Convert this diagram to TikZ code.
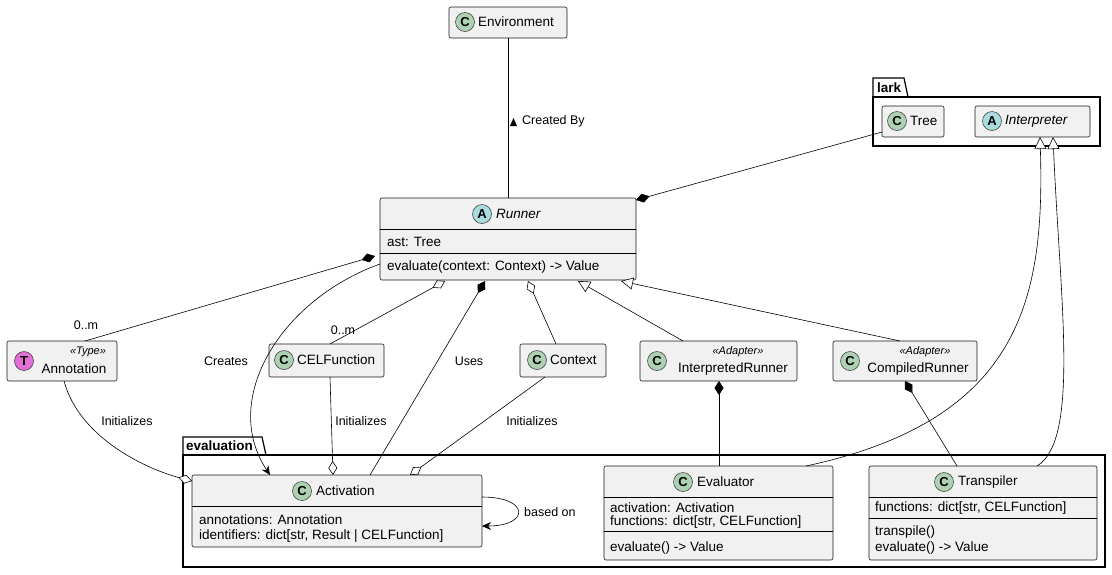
\documentclass[tikz,border=0pt]{standalone}
\usepackage{fontspec}
\setmainfont{Liberation Sans}
\usetikzlibrary{arrows.meta}
\definecolor{boxf}{HTML}{F1F1F1}
\definecolor{cg}{HTML}{ADD1B2}
\definecolor{ca}{HTML}{A9DCDF}
\definecolor{ct}{HTML}{E26FD6}
\tikzset{
 cls/.style={draw=black!90, fill=boxf, rounded corners=2pt, line width=0.6pt},
 pkg/.style={draw=black, line width=1.2pt},
 badge/.style={circle, draw=black!80, line width=0.5pt, minimum size=19pt, inner sep=0pt, font=\fontsize{13}{13}\selectfont\bfseries},
 t/.style={font=\fontsize{13.5}{15}\selectfont, inner sep=0pt},
 ti/.style={font=\fontsize{13.5}{15}\selectfont\itshape, inner sep=0pt},
 st/.style={font=\fontsize{11}{12}\selectfont\itshape, inner sep=0pt},
 lb/.style={font=\fontsize{12.5}{14}\selectfont, inner sep=0pt},
 ln/.style={line width=0.6pt},
 fd/.style={-{Diamond[length=14pt,width=9pt]}},
 od/.style={-{Diamond[open,fill=white,length=14pt,width=9pt]}},
 tri/.style={-{Triangle[open,fill=white,length=12pt,width=12pt]}},
 arr/.style={-{Stealth[length=9pt,width=8pt]}}
}
\begin{document}
\begin{tikzpicture}[x=1pt,y=-1pt]
\useasboundingbox (0,0) rectangle (1112,574);
% packages
\draw[pkg] (873,97) -- (873,78) -- (904,78) -- (908,97);
\draw[pkg] (873,97) rectangle (1100,146);
\node[t,font=\fontsize{13.5}{15}\selectfont\bfseries,anchor=west] at (877,88) {lark};
\draw[pkg] (183,455) -- (183,437) -- (262,437) -- (266,455);
\draw[pkg] (183,455) rectangle (1105,567);
\node[t,font=\fontsize{13.5}{15}\selectfont\bfseries,anchor=west] at (186,446) {evaluation};
% Environment
\draw[cls] (449,7) rectangle (567,38); \coordinate (env) at (508,38);
\node[badge,fill=cg] at (465,22) {C}; \node[t,anchor=west] at (478,22) {Environment};
% Tree, Interpreter
\draw[cls] (882,106) rectangle (944,137); \coordinate (tree) at (882,132);
\node[badge,fill=cg] at (897,121) {C}; \node[t,anchor=west] at (910,121) {Tree};
\draw[cls] (975,106) rectangle (1090,137);
\node[badge,fill=ca] at (992,121) {A}; \node[ti,anchor=west] at (1005,121) {Interpreter};
% Runner
\draw[cls] (380,198) rectangle (636,280);
\draw[ln] (380,229) -- (636,229); \draw[ln] (380,253) -- (636,253);
\node[badge,fill=ca] at (482,214) {A}; \node[ti,anchor=west] at (496,214) {Runner};
\node[t,anchor=west] at (387,242) {ast: Tree};
\node[t,anchor=west] at (387,267) {evaluate(context: Context) -> Value};
% Annotation
\draw[cls] (7,341) rectangle (117,381);
\node[badge,fill=ct] at (24,361) {T};
\node[st] at (88,352) {«Type»}; \node[t] at (74,369) {Annotation};
% CELFunction
\draw[cls] (269,344) rectangle (384,377);
\node[badge,fill=cg] at (284,360) {C}; \node[t,anchor=west] at (297,360) {CELFunction};
% Context
\draw[cls] (520,344) rectangle (606,377);
\node[badge,fill=cg] at (537,360) {C}; \node[t,anchor=west] at (550,360) {Context};
% InterpretedRunner
\draw[cls] (640,341) rectangle (797,381);
\node[badge,fill=cg] at (657,361) {C};
\node[st] at (738,352) {«Adapter»}; \node[t] at (733,369) {InterpretedRunner};
% CompiledRunner
\draw[cls] (833,341) rectangle (977,381);
\node[badge,fill=cg] at (850,361) {C};
\node[st] at (925,352) {«Adapter»}; \node[t] at (918,369) {CompiledRunner};
% Activation
\draw[cls] (192,475) rectangle (482,547);
\draw[ln] (192,506) -- (482,506);
\node[badge,fill=cg] at (302,491) {C}; \node[t,anchor=west] at (316,491) {Activation};
\node[t,anchor=west] at (199,520) {annotations: Annotation};
\node[t,anchor=west] at (199,536) {identifiers: dict[str, Result | CELFunction]};
% Evaluator
\draw[cls] (604,466) rectangle (833,560);
\draw[ln] (604,497) -- (833,497); \draw[ln] (604,531) -- (833,531);
\node[badge,fill=cg] at (683,482) {C}; \node[t,anchor=west] at (697,482) {Evaluator};
\node[t,anchor=west] at (610,508) {activation: Activation};
\node[t,anchor=west] at (610,522) {functions: dict[str, CELFunction]};
\node[t,anchor=west] at (610,548) {evaluate() -> Value};
% Transpiler
\draw[cls] (869,466) rectangle (1097,560);
\draw[ln] (869,497) -- (1097,497); \draw[ln] (869,518) -- (1097,518);
\node[badge,fill=cg] at (944,482) {C}; \node[t,anchor=west] at (958,482) {Transpiler};
\node[t,anchor=west] at (875,508) {functions: dict[str, CELFunction]};
\node[t,anchor=west] at (875,532) {transpile()};
\node[t,anchor=west] at (875,548) {evaluate() -> Value};
% connectors
\draw[ln] (508,38) -- (508,198);
\fill (510,126) -- (517,126) -- (513.5,118) -- cycle;
\node[lb,anchor=west] at (522,121) {Created By};
\draw[ln,fd] (tree) -- (636,200);
\draw[ln,fd] (85,341) -- (375,256);
\node[lb] at (86,325) {0..m};
\draw[ln,od] (330,344) -- (445,281);
\node[lb] at (343,330) {0..m};
\draw[ln,fd] (370,475) -- (485,281);
\node[lb] at (469,361) {Uses};
\draw[ln,od] (556,344) -- (528,281);
\draw[ln,arr] (380,264) .. controls (280,300) and (220,400) .. (270,475);
\node[lb] at (226,361) {Creates};
\draw[ln,tri] (683,341) -- (578,281);
\draw[ln,tri] (900,341) -- (621,281);
\draw[ln,od] (64,381) .. controls (80,440) and (150,470) .. (192,481);
\node[lb] at (127,421) {Initializes};
\draw[ln,od] (330,377) -- (333,475);
\node[lb] at (361,421) {Initializes};
\draw[ln,od] (545,377) -- (410,475);
\node[lb] at (532,421) {Initializes};
\draw[ln,fd] (719,466) -- (719,381);
\draw[ln,fd] (957,466) -- (905,381);
\draw[ln,tri] (806,466) .. controls (1020,420) and (1045,300) .. (1040,137);
\draw[ln,tri] (1037,466) .. controls (1080,440) and (1060,300) .. (1053,137);
\draw[ln,arr] (482,497) .. controls (530,497) and (530,526) .. (482,526);
\node[lb,anchor=west] at (524,512) {based on};
\end{tikzpicture}
\end{document}
